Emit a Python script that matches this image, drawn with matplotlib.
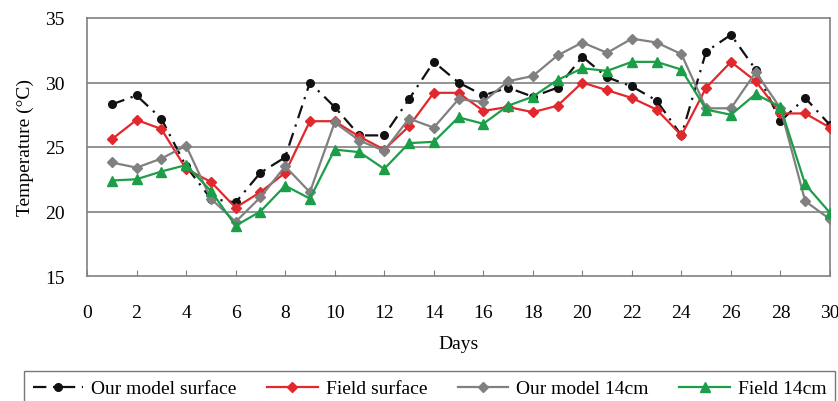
import matplotlib
matplotlib.use("Agg")
import matplotlib.pyplot as plt

plt.rcParams['font.family'] = ['Liberation Serif', 'DejaVu Serif']

days = list(range(1, 31))
model_surface = [28.3, 29.0, 27.2, 23.5, 21.0, 20.7, 23.0, 24.2, 30.0, 28.1,
                 25.9, 25.9, 28.7, 31.6, 30.0, 29.0, 29.6, 28.9, 29.6, 32.0,
                 30.4, 29.7, 28.6, 25.9, 32.4, 33.7, 31.0, 27.0, 28.8, 26.7]
field_surface = [25.6, 27.1, 26.4, 23.3, 22.3, 20.3, 21.5, 23.0, 27.0, 27.0,
                 25.8, 24.8, 26.6, 29.2, 29.2, 27.8, 28.1, 27.7, 28.2, 30.0,
                 29.4, 28.8, 27.9, 25.9, 29.6, 31.6, 30.1, 27.6, 27.6, 26.5]
model_14cm = [23.8, 23.4, 24.1, 25.1, 21.0, 19.2, 21.1, 23.5, 21.5, 26.9,
              25.5, 24.7, 27.2, 26.5, 28.7, 28.5, 30.1, 30.5, 32.1, 33.1,
              32.3, 33.4, 33.1, 32.2, 28.0, 28.0, 30.8, 28.0, 20.8, 19.4]
field_14cm = [22.4, 22.5, 23.1, 23.6, 21.6, 18.9, 20.0, 22.0, 21.0, 24.8,
              24.6, 23.3, 25.3, 25.4, 27.3, 26.8, 28.2, 28.9, 30.2, 31.1,
              30.9, 31.6, 31.6, 31.0, 27.9, 27.5, 29.1, 28.1, 22.1, 19.9]

series_labels = ["Our model surface", "Field surface", "Our model 14cm", "Field 14cm"]
x_ticks = list(range(0, 31, 2))
y_ticks = [15, 20, 25, 30, 35]

fig = plt.figure(figsize=(8.38, 4.02), dpi=100)
ax = fig.add_axes([87 / 838, 1 - 277 / 402, (830 - 87) / 838, (277 - 19) / 402])

ax.plot(days, model_surface, color="#111111", lw=1.6, dashes=(6, 3, 1, 3),
        marker="o", ms=5.5, label=series_labels[0], zorder=3)
ax.plot(days, field_surface, color="#E2282C", lw=1.6,
        marker="D", ms=4.8, label=series_labels[1], zorder=4)
ax.plot(days, model_14cm, color="#808080", lw=1.6,
        marker="D", ms=4.8, label=series_labels[2], zorder=5)
ax.plot(days, field_14cm, color="#1C9E48", lw=1.6,
        marker="^", ms=6.5, label=series_labels[3], zorder=6)

ax.set_xlim(0, 30)
ax.set_ylim(15, 35)
ax.set_xticks(x_ticks)
ax.set_yticks(y_ticks)
ax.tick_params(axis="x", direction="in", length=4, color="#808080",
               labelsize=14, pad=20)
ax.tick_params(axis="y", length=0, labelsize=14, pad=16)

for y in [20, 25, 30]:
    ax.axhline(y, color="#808080", lw=1.2, zorder=1)
for s in ax.spines.values():
    s.set_color("#808080")
    s.set_linewidth(1.2)

ax.set_xlabel("Days", fontsize=14, labelpad=10)
ax.set_ylabel("Temperature (°C)", fontsize=14, labelpad=8)

fig.legend(loc="upper left", bbox_to_anchor=(24 / 838, 1 - 372 / 402, 811 / 838, 0.0),
           mode="expand", ncol=4, fontsize=14, frameon=True, fancybox=False,
           edgecolor="#555555", handlelength=2.6, handletextpad=0.4,
           borderaxespad=0.0, borderpad=0.45)

fig.savefig("out.png", dpi=100)
